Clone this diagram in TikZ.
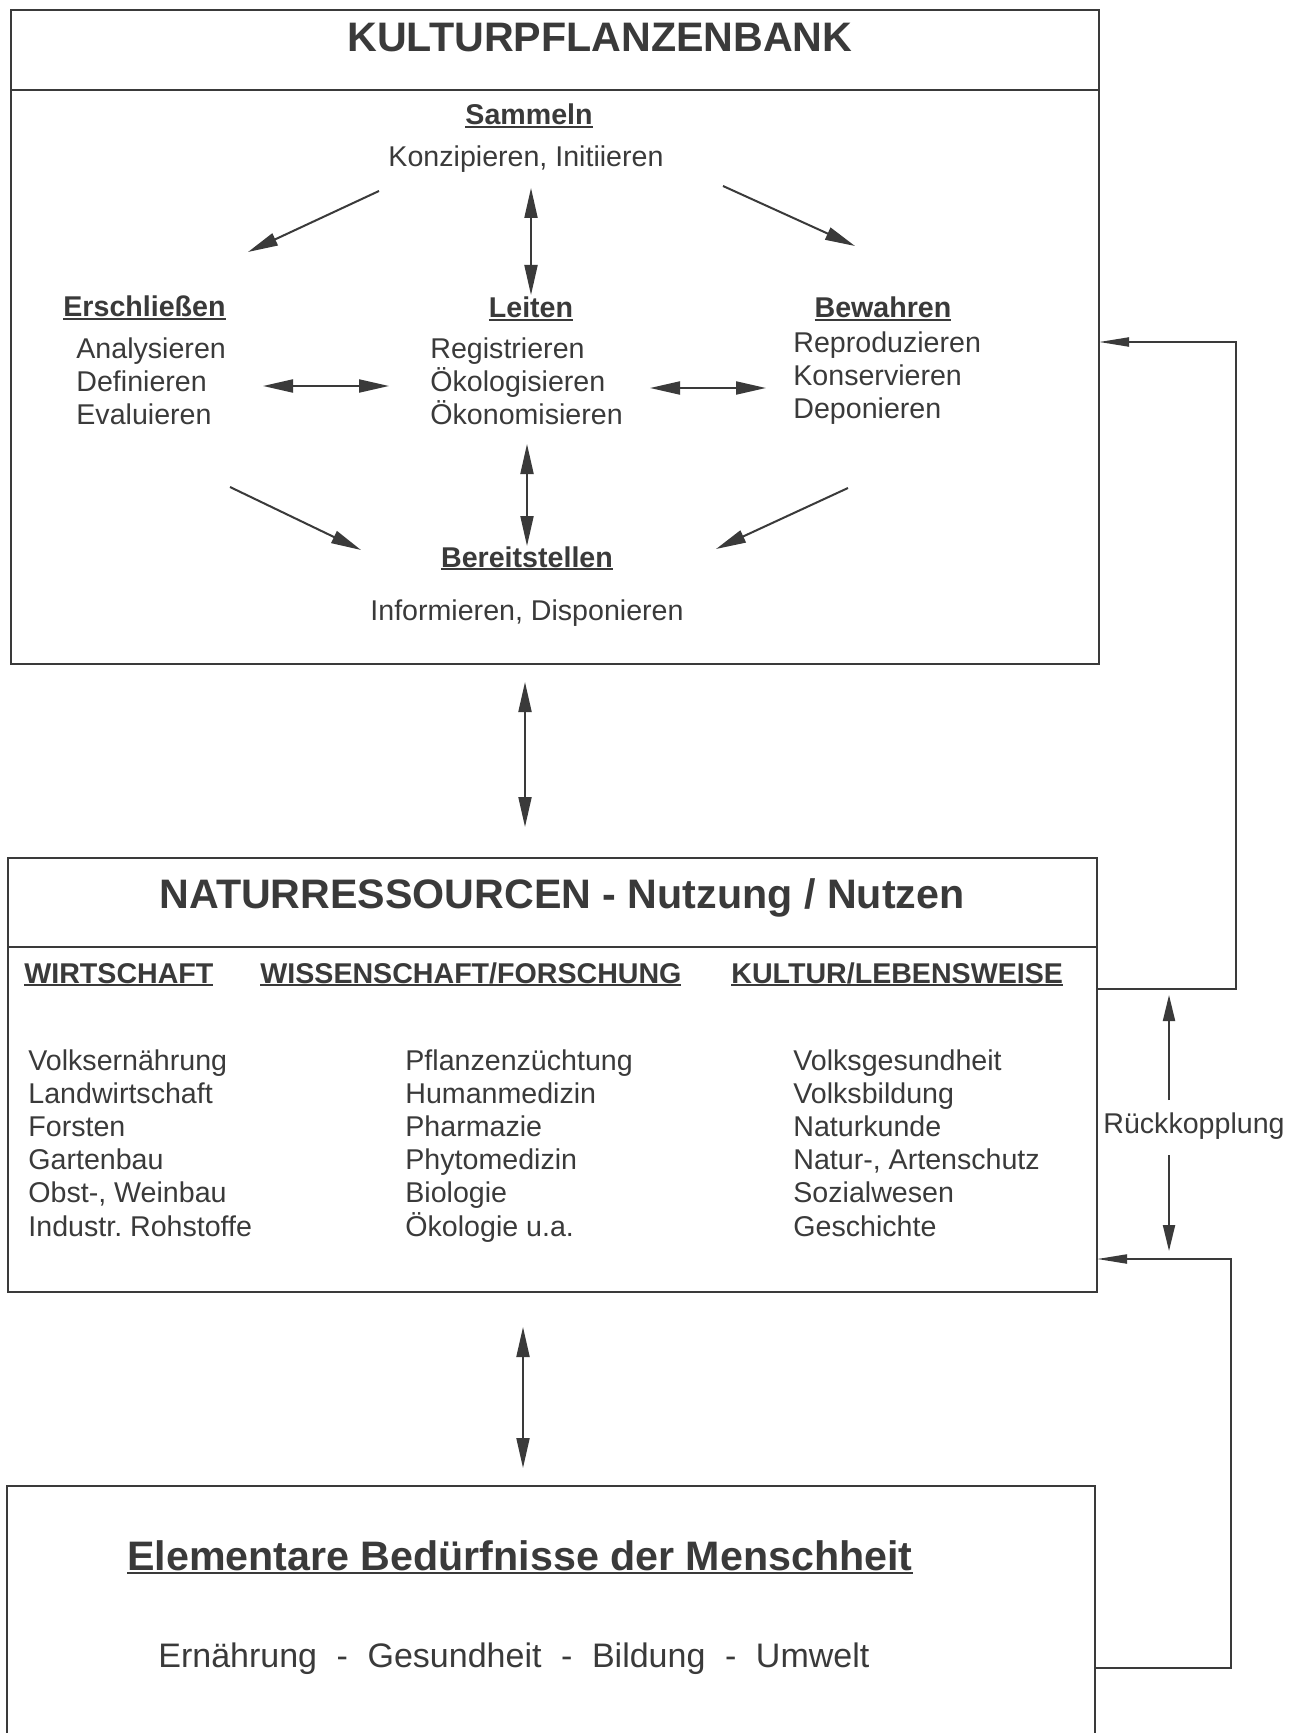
\documentclass[tikz,border=0pt]{standalone}
\usepackage{fontspec}
\setmainfont{Liberation Sans}
\usetikzlibrary{arrows.meta}
\definecolor{ink}{HTML}{3A3A3A}
\newsavebox\ulsave
% underline at a fixed distance below the baseline
\newcommand\ulword[2][1.6pt]{\sbox\ulsave{#2}\rlap{\rule[-#1]{\wd\ulsave}{0.9pt}}\usebox\ulsave}
\begin{document}
\begin{tikzpicture}[x=0.5pt,y=-0.5pt,
  frame/.style={draw=ink,line width=1.3pt},
  txt/.style={text=ink,inner sep=0pt,font=\fontsize{14.3pt}{16.6pt}\selectfont},
  head/.style={text=ink,inner sep=0pt,font=\fontsize{14.3pt}{16.6pt}\selectfont\bfseries},
  big/.style={text=ink,inner sep=0pt,font=\fontsize{20.6pt}{24pt}\selectfont\bfseries},
  both/.style={draw=ink,line width=1pt,{Triangle[length=15pt,width=6.5pt]}-{Triangle[length=15pt,width=6.5pt]}},
  one/.style={draw=ink,line width=1pt,-{Triangle[length=15pt,width=6.5pt]}},
  fb/.style={draw=ink,line width=1pt,-{Triangle[length=15pt,width=4.5pt]}},
  fbone/.style={draw=ink,line width=1pt,-{Triangle[length=13pt,width=6pt]}}]
\useasboundingbox[fill=white] (0,0) rectangle (1299,1733);

% ---------- Kulturpflanzenbank ----------
\coordinate (kA) at (11,10);
\coordinate (kB) at (1099,664);
\draw[frame] (kA) rectangle (kB);
\draw[frame] (11,90) -- (1099,90);
\node[big,anchor=base] (ktitle) at (600,52) {KULTURPFLANZENBANK};

\node[head,anchor=base] (sam) at (529,125) {\ulword{Sammeln}};
\node[txt,anchor=base] (konz) at (526,167) {Konzipieren, Initiieren};

\node[head,anchor=base west] (ers) at (63,317) {\ulword{Erschließen}};
\foreach \t [count=\i from 0] in {Analysieren,Definieren,Evaluieren}
  \node[txt,anchor=base west] (ers\i) at (76,358+33.4*\i) {\t};

\node[head,anchor=base] (lei) at (531,318) {\ulword{Leiten}};
\foreach \t [count=\i from 0] in {Registrieren,Ökologisieren,Ökonomisieren}
  \node[txt,anchor=base west] (lei\i) at (430,358+33.4*\i) {\t};

\node[head,anchor=base] (bew) at (883,318) {\ulword{Bewahren}};
\foreach \t [count=\i from 0] in {Reproduzieren,Konservieren,Deponieren}
  \node[txt,anchor=base west] (bew\i) at (793,352+33.2*\i) {\t};

\node[head,anchor=base] (ber) at (527,567) {\ulword{Bereitstellen}};
\node[txt,anchor=base] (inf) at (527,620) {Informieren, Disponieren};

% cycle of tasks
\coordinate (s1) at (379,191);  \coordinate (s2) at (248,252);
\coordinate (s3) at (723,186);  \coordinate (s4) at (855,246);
\coordinate (v1) at (531,188);  \coordinate (v2) at (531,295);
\coordinate (h1) at (263,386);  \coordinate (h2) at (389,386);
\coordinate (h3) at (650,388);  \coordinate (h4) at (766,388);
\coordinate (v3) at (527,444);  \coordinate (v4) at (527,546);
\coordinate (d1) at (230,487);  \coordinate (d2) at (361,550);
\coordinate (d3) at (848,488);  \coordinate (d4) at (716,549);
\draw[one] (s1) -- (s2);
\draw[one] (s3) -- (s4);
\draw[both] (v1) -- (v2);
\draw[both] (h1) -- (h2);
\draw[both] (h3) -- (h4);
\draw[both] (v3) -- (v4);
\draw[one] (d1) -- (d2);
\draw[one] (d3) -- (d4);

% link to the second block
\coordinate (m1) at (525,682); \coordinate (m2) at (525,827);
\draw[both] (m1) -- (m2);

% ---------- Naturressourcen ----------
\coordinate (nA) at (8,858);
\coordinate (nB) at (1097,1292);
\draw[frame] (nA) rectangle (nB);
\draw[frame] (8,947) -- (1097,947);
\node[big,anchor=base] (ntitle) at (562,908) {NATURRESSOURCEN - Nutzung / Nutzen};

\node[head,anchor=base west] (c1) at (24,983) {\ulword[1.5pt]{WIRTSCHAFT}};
\node[head,anchor=base west] (c2) at (260,983) {\ulword[1.5pt]{WISSENSCHAFT/FORSCHUNG}};
\node[head,anchor=base west] (c3) at (731,983) {\ulword[1.5pt]{KULTUR/LEBENSWEISE}};

\foreach \t [count=\i from 0] in {Volksernährung,Landwirtschaft,Forsten,Gartenbau,{Obst-, Weinbau},{Industr.\ Rohstoffe}}
  \node[txt,anchor=base west] (w\i) at (28,1070+33.2*\i) {\t};
\foreach \t [count=\i from 0] in {Pflanzenzüchtung,Humanmedizin,Pharmazie,Phytomedizin,Biologie,Ökologie u.a.}
  \node[txt,anchor=base west] (f\i) at (405,1070+33.2*\i) {\t};
\foreach \t [count=\i from 0] in {Volksgesundheit,Volksbildung,Naturkunde,{Natur-, Artenschutz},Sozialwesen,Geschichte}
  \node[txt,anchor=base west] (l\i) at (793,1070+33.2*\i) {\t};

% link to the third block
\coordinate (m3) at (523,1327); \coordinate (m4) at (523,1468);
\draw[both] (m3) -- (m4);

% ---------- Elementare Bedürfnisse ----------
\draw[frame] (7,1733) -- (7,1486) -- (1095,1486) -- (1095,1733);
\node[big,anchor=base] (etitle) at (520,1570) {\ulword[2pt]{Elementare Bedürfnisse der Menschheit}};
\node[txt,anchor=base west,font=\fontsize{17pt}{20pt}\selectfont] (needs) at (158,1667)
  {Ernährung\hspace{9.8pt}-\hspace{9.8pt}Gesundheit\hspace{9.8pt}-\hspace{9.8pt}Bildung\hspace{9.8pt}-\hspace{9.8pt}Umwelt};

% ---------- feedback loops ----------
\coordinate (fa) at (1097,989);  \coordinate (fb) at (1236,342);  \coordinate (fc) at (1099,342);
\draw[fb] (fa) -| (fb) -- (fc);
\coordinate (fd) at (1095,1668); \coordinate (fe) at (1231,1259); \coordinate (ff) at (1097,1259);
\draw[fb] (fd) -| (fe) -- (ff);

\node[txt,anchor=base] (rk) at (1194,1133) {Rückkopplung};
\coordinate (r1) at (1169,1100); \coordinate (r2) at (1169,995);
\coordinate (r3) at (1169,1155); \coordinate (r4) at (1169,1251);
\draw[fbone] (r1) -- (r2);
\draw[fbone] (r3) -- (r4);
\end{tikzpicture}
\end{document}
